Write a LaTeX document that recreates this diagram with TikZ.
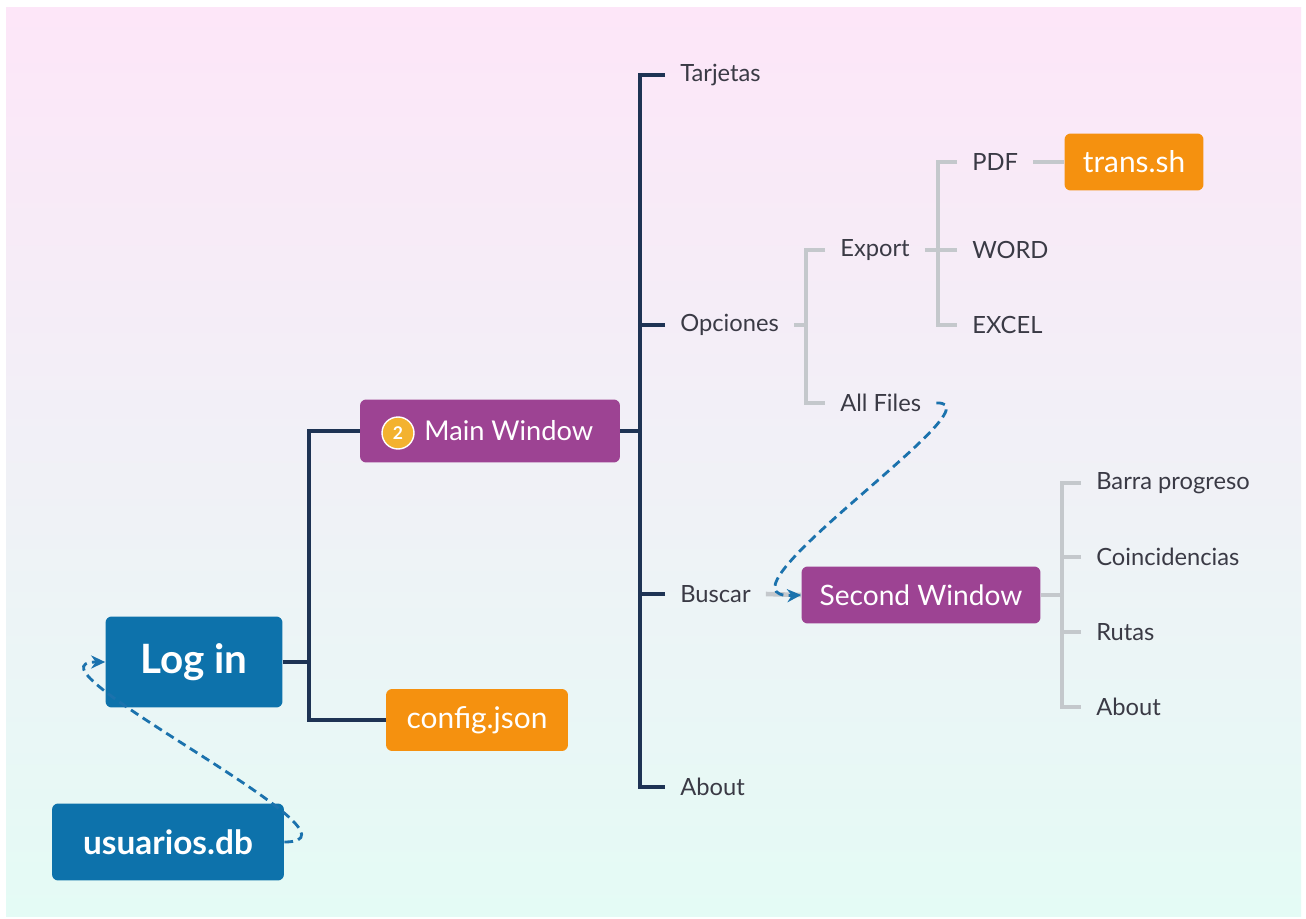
\documentclass[tikz,border=0pt]{standalone}
\usepackage{fontspec}
\setmainfont{Lato}
\usetikzlibrary{arrows.meta}
\definecolor{bgtop}{HTML}{FDE6F8}
\definecolor{bgbot}{HTML}{E4FBF5}
\definecolor{navy}{HTML}{1E3354}
\definecolor{twiggray}{HTML}{C4C8CC}
\definecolor{labelc}{HTML}{3A3A45}
\definecolor{bluebox}{HTML}{0D72AB}
\definecolor{purplebox}{HTML}{9D4393}
\definecolor{orangebox}{HTML}{F5910F}
\definecolor{badgec}{HTML}{F3B22F}
\definecolor{linkblue}{HTML}{1B72AD}
\tikzset{
  box/.style={rounded corners=3.5pt, text=white, inner sep=0pt},
  lbl/.style={anchor=west, text=labelc, font=\fontsize{13.5}{16}\selectfont, inner xsep=8.5pt, inner ysep=2pt},
  trunk/.style={draw=navy, line width=2.3pt},
  twig/.style={draw=twiggray, line width=2.6pt},
  link/.style={draw=linkblue, line width=1.6pt, dash pattern=on 5pt off 3pt, -{Stealth[length=8pt,width=7.5pt]}}
}
\begin{document}
\begin{tikzpicture}[x=0.02cm, y=-0.02cm]
\useasboundingbox (0,0) rectangle (1306,919);
\fill[white] (0,0) rectangle (1306,919);
\shade[top color=bgtop, bottom color=bgbot] (6,8) rectangle (1301,916);

% boxes
\node[box, fill=bluebox, minimum width=3.54cm, minimum height=1.82cm,
  font=\fontsize{23}{27}\selectfont\bfseries] (login) at (194,662) {Log in};
\node[box, fill=bluebox, minimum width=4.64cm, minimum height=1.54cm,
  font=\fontsize{19}{22}\selectfont\bfseries] (usuarios) at (168,842) {usuarios.db};
\node[box, fill=purplebox, minimum width=5.2cm, minimum height=1.26cm] (mainw) at (490,431) {};
\node[text=white, font=\fontsize{15.5}{18}\selectfont, anchor=west, inner sep=0pt] (mainlbl) at (424,431) {Main Window};
\node[circle, fill=badgec, draw=white, line width=0.8pt, minimum size=0.64cm, inner sep=0pt,
  text=white, font=\fontsize{10}{12}\selectfont\bfseries] (badge) at (398,433) {2};
\node[box, fill=orangebox, minimum width=3.64cm, minimum height=1.24cm,
  font=\fontsize{17}{20}\selectfont] (config) at (477,720) {config.json};
\node[box, fill=purplebox, minimum width=4.78cm, minimum height=1.14cm,
  font=\fontsize{16}{19}\selectfont] (secw) at (921,595) {Second Window};
\node[box, fill=orangebox, minimum width=2.78cm, minimum height=1.14cm,
  font=\fontsize{17}{20}\selectfont] (trans) at (1134,162) {trans.sh};

% labels
\node[lbl] (tarj) at (665,75) {Tarjetas};
\node[lbl] (opc) at (665,325) {Opciones};
\node[lbl] (busc) at (665,594) {Buscar};
\node[lbl] (about1) at (665,787) {About};
\node[lbl] (export) at (825,250) {Export};
\node[lbl] (allf) at (825,403) {All Files};
\node[lbl] (pdf) at (957,162) {PDF};
\node[lbl] (word) at (957,250) {WORD};
\node[lbl] (excel) at (957,325) {EXCEL};
\node[lbl] (barra) at (1081,483) {Barra progreso};
\node[lbl] (coinc) at (1081,557) {Coincidencias};
\node[lbl] (rutas) at (1081,632) {Rutas};
\node[lbl] (about2) at (1081,707) {About};

% junctions
\coordinate (j1) at (309,662);
\coordinate (j2) at (640,431);
\coordinate (j3) at (806,325);
\coordinate (j4) at (938,250);
\coordinate (j5) at (1062,595);

% main tree
\draw[trunk] (login.east) -- (j1);
\draw[trunk] (mainw.west) -| (j1) |- (config.west);
\draw[trunk] (mainw.east) -- (j2);
\draw[trunk] (tarj.west) -| (j2) |- (about1.west);
\draw[trunk] (opc.west) -- (opc.west -| j2);
\draw[trunk] (busc.west) -- (busc.west -| j2);

% sub trees
\draw[twig] (opc.east) -- (j3);
\draw[twig] (export.west) -| (j3) |- (allf.west);
\draw[twig] (export.east) -- (j4);
\draw[twig] (pdf.west) -| (j4) |- (excel.west);
\draw[twig] (word.west) -- (j4);
\draw[twig] (pdf.east) -- (trans.west);
\draw[twig] (busc.east) -- (secw.west);
\draw[twig] (secw.east) -- (j5);
\draw[twig] (barra.west) -| (j5) |- (about2.west);
\draw[twig] (coinc.west) -- (coinc.west -| j5);
\draw[twig] (rutas.west) -- (rutas.west -| j5);

% links
\draw[link] (allf.east) .. controls (1005,400) and (700,600) .. (secw.west);
\draw[link] (usuarios.east) .. controls (385,842) and (10,662) .. (login.west);
\end{tikzpicture}
\end{document}
